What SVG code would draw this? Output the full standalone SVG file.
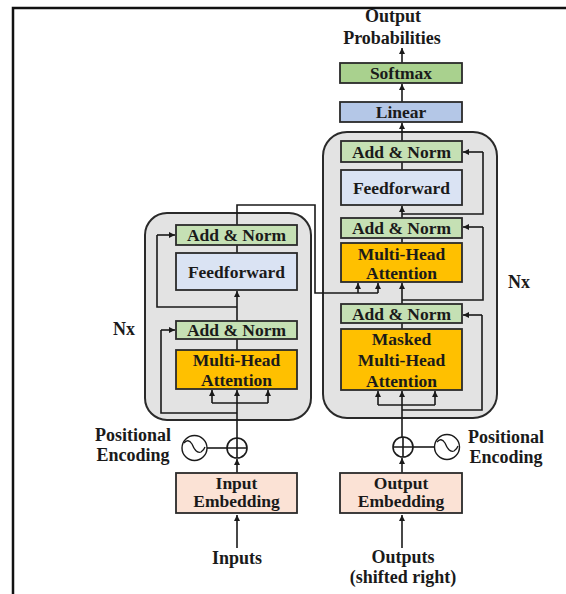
<svg xmlns="http://www.w3.org/2000/svg" width="566" height="594" viewBox="0 0 566 594">
<defs>
<marker id="ah" markerWidth="6" markerHeight="6" refX="6" refY="3" orient="auto" markerUnits="userSpaceOnUse">
<path d="M0,0 L6,3 L0,6 z" fill="#1a1a1a"/>
</marker>
<style>
.t{font-family:"Liberation Serif","Times New Roman",serif;font-weight:bold;font-size:17.5px;fill:#1a1a1a;text-anchor:middle}
.l{font-family:"Liberation Serif","Times New Roman",serif;font-weight:bold;font-size:18px;fill:#1a1a1a;text-anchor:middle}
.box{stroke:#2a2a2a;stroke-width:1.8}
.an{fill:#c5e0b4}
.ff{fill:#dae3f3}
.mha{fill:#ffc000}
.emb{fill:#fbe2d5}
.blk{fill:#e3e3e3;stroke:#2a2a2a;stroke-width:2}
.c{fill:none;stroke:#1a1a1a;stroke-width:1.6}
.a{fill:none;stroke:#1a1a1a;stroke-width:1.6;marker-end:url(#ah)}
</style>
</defs>
<rect width="566" height="594" fill="#ffffff"/>
<path d="M13,594 L13,8 L566,8" fill="none" stroke="#111" stroke-width="2.5"/>

<g id="encoder-block"><rect class="blk" x="145" y="213" width="166" height="207" rx="22"/></g>
<g id="decoder-block"><rect class="blk" x="323" y="132" width="174" height="286" rx="24"/></g>

<g id="connectors">
<!-- encoder -->
<path class="a" d="M237,548 L237,515"/>
<path class="a" d="M237,473 L237,459"/>
<path class="a" d="M237,438 L237,390"/>
<path class="c" d="M212,403 L268,403"/>
<path class="a" d="M212,403 L212,390"/>
<path class="a" d="M268,403 L268,390"/>
<path class="c" d="M237,413 L161,413 L161,330"/>
<path class="a" d="M161,330 L175,330"/>
<path class="c" d="M237,339 L237,350"/>
<path class="a" d="M237,321 L237,291"/>
<path class="c" d="M237,307 L157,307 L157,235"/>
<path class="a" d="M157,235 L175,235"/>
<path class="c" d="M237,245 L237,253"/>
<path class="c" d="M237,225 L237,205 L315,205 L315,293 L378,293"/>
<path class="a" d="M358,293 L358,283"/>
<path class="a" d="M378,293 L378,283"/>
<path class="c" d="M207,448 L227,448"/>
<!-- decoder -->
<path class="a" d="M402,548 L402,515"/>
<path class="a" d="M402,473 L402,458"/>
<path class="a" d="M402,437 L402,391"/>
<path class="c" d="M378,405 L435,405"/>
<path class="a" d="M378,405 L378,391"/>
<path class="a" d="M435,405 L435,391"/>
<path class="c" d="M402,410 L482,410 L482,315"/>
<path class="a" d="M482,315 L463,315"/>
<path class="c" d="M402,323 L402,329"/>
<path class="a" d="M402,304 L402,283"/>
<path class="c" d="M402,300 L483,300 L483,227"/>
<path class="a" d="M483,227 L463,227"/>
<path class="c" d="M402,238 L402,243"/>
<path class="a" d="M402,218 L402,206"/>
<path class="c" d="M402,214 L483,214 L483,152"/>
<path class="a" d="M483,152 L463,152"/>
<path class="c" d="M402,162 L402,170"/>
<path class="a" d="M402,141 L402,123"/>
<path class="a" d="M402,102 L402,84"/>
<path class="a" d="M402,63 L402,48"/>
<path class="c" d="M413,447 L434,447"/>
</g>

<g id="enc-addnorm-2"><rect class="box an" x="176" y="225" width="121" height="20"/><text class="t" x="236.5" y="241">Add &amp; Norm</text></g>
<g id="enc-feedforward"><rect class="box ff" x="176" y="253" width="121" height="37"/><text class="t" x="236.5" y="277.5">Feedforward</text></g>
<g id="enc-addnorm-1"><rect class="box an" x="176" y="321" width="121" height="18"/><text class="t" x="236.5" y="336">Add &amp; Norm</text></g>
<g id="enc-mha"><rect class="box mha" x="176" y="350" width="121" height="39"/><text class="t" x="236.5" y="366">Multi-Head</text><text class="t" x="236.5" y="386">Attention</text></g>

<g id="dec-addnorm-3"><rect class="box an" x="341" y="141" width="121" height="21"/><text class="t" x="401.5" y="157.5">Add &amp; Norm</text></g>
<g id="dec-feedforward"><rect class="box ff" x="341" y="170" width="121" height="35"/><text class="t" x="401.5" y="193.5">Feedforward</text></g>
<g id="dec-addnorm-2"><rect class="box an" x="341" y="218" width="121" height="20"/><text class="t" x="401.5" y="234">Add &amp; Norm</text></g>
<g id="dec-mha"><rect class="box mha" x="341" y="243" width="121" height="39"/><text class="t" x="401.5" y="259.5">Multi-Head</text><text class="t" x="401.5" y="279">Attention</text></g>
<g id="dec-addnorm-1"><rect class="box an" x="341" y="304" width="121" height="19"/><text class="t" x="401.5" y="319.5">Add &amp; Norm</text></g>
<g id="dec-masked-mha"><rect class="box mha" x="341" y="329" width="121" height="61"/><text class="t" x="401.5" y="345">Masked</text><text class="t" x="401.5" y="366">Multi-Head</text><text class="t" x="401.5" y="386.5">Attention</text></g>

<g id="linear"><rect class="box" fill="#b4c7e7" x="340" y="102" width="122" height="20"/><text class="t" x="401" y="118">Linear</text></g>
<g id="softmax"><rect class="box" fill="#a9d18e" x="340" y="63" width="122" height="20"/><text class="t" x="401" y="79">Softmax</text></g>
<g id="output-probabilities"><text class="l" x="393" y="22">Output</text><text class="l" x="392" y="44">Probabilities</text></g>

<g id="input-embedding"><rect class="box emb" x="176" y="473" width="121" height="40"/><text class="t" x="236.5" y="488.5">Input</text><text class="t" x="236.5" y="507">Embedding</text></g>
<g id="output-embedding"><rect class="box emb" x="340" y="473" width="122" height="40"/><text class="t" x="401" y="488.5">Output</text><text class="t" x="401" y="507">Embedding</text></g>

<g id="enc-add"><circle cx="237" cy="448" r="10" fill="#fff" stroke="#1a1a1a" stroke-width="1.6"/><path class="c" d="M227,448 L247,448 M237,438 L237,458"/></g>
<g id="dec-add"><circle cx="403" cy="447" r="10" fill="#fff" stroke="#1a1a1a" stroke-width="1.6"/><path class="c" d="M393,447 L413,447 M403,437 L403,457"/></g>
<g id="enc-posenc"><circle cx="194.5" cy="448" r="12.5" fill="#fff" stroke="#1a1a1a" stroke-width="1.4"/><path d="M184,443 Q188,438 192,444 Q196,454 201,452 Q204,450 205,447" fill="none" stroke="#1a1a1a" stroke-width="1.3"/><text class="l" x="133" y="441">Positional</text><text class="l" x="133" y="461">Encoding</text></g>
<g id="dec-posenc"><circle cx="447" cy="447" r="12.5" fill="#fff" stroke="#1a1a1a" stroke-width="1.4"/><path d="M437,442 Q441,437 445,443 Q449,453 454,451 Q457,449 458,446" fill="none" stroke="#1a1a1a" stroke-width="1.3"/><text class="l" x="506" y="443">Positional</text><text class="l" x="506" y="463">Encoding</text></g>

<g id="inputs"><text class="l" x="237" y="564">Inputs</text></g>
<g id="outputs"><text class="l" x="403" y="563">Outputs</text><text class="l" x="403" y="583">(shifted right)</text></g>
<g id="enc-nx"><text class="l" x="124" y="335">Nx</text></g>
<g id="dec-nx"><text class="l" x="519" y="288">Nx</text></g>
</svg>
